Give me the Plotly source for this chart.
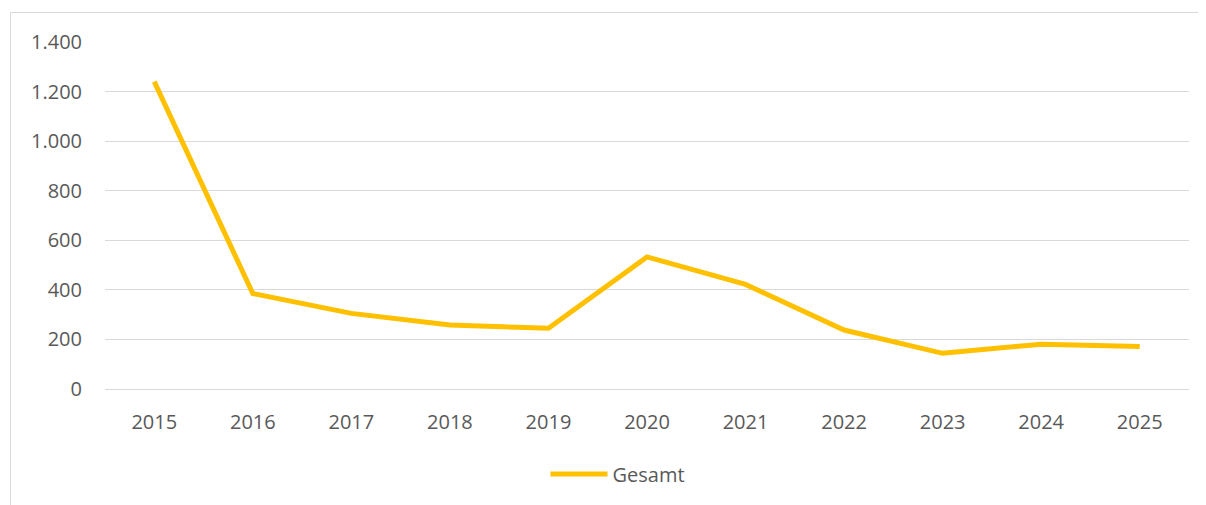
import plotly.graph_objects as go

years = ["2015", "2016", "2017", "2018", "2019", "2020", "2021", "2022", "2023", "2024", "2025"]
gesamt = [1240, 385, 305, 258, 245, 533, 422, 238, 144, 181, 171]
y_ticks = [0, 200, 400, 600, 800, 1000, 1200, 1400]

# page body adds an 8px offset; compensate so pixels match the target
OFF = 8
W, H = 1206 - OFF, 505 - OFF
L, R, T, B = 105 - OFF, 17, 42 - OFF, 116
pw, ph = W - L - R, H - T - B

def px_to_paper_x(px):
    return (px - OFF - L) / pw

def px_to_paper_y(py):
    return (H - B - (py - OFF)) / ph

fig = go.Figure()
fig.add_trace(go.Scatter(
    x=years, y=gesamt, mode="lines", name="Gesamt",
    line=dict(color="#FFC000", width=5, shape="linear"),
))

fig.update_layout(
    width=W, height=H,
    margin=dict(l=L, r=R, t=T, b=B, pad=0),
    paper_bgcolor="white", plot_bgcolor="white",
    separators=",.",
    font=dict(family="Open Sans, Liberation Sans, sans-serif", size=20, color="#595959"),
    showlegend=True,
    legend=dict(orientation="h", x=px_to_paper_x(618), xanchor="center", y=px_to_paper_y(474),
                yanchor="middle", itemwidth=57, font=dict(size=20, color="#595959")),
    xaxis=dict(type="category", range=[-0.5, 10.5], showgrid=False, showline=False,
               ticks="", ticklabelstandoff=19, tickfont=dict(size=20, color="#595959")),
    yaxis=dict(range=[0, 1400], tickvals=y_ticks, tickformat=",d", showgrid=True,
               gridcolor="#d9d9d9", gridwidth=1.3, zeroline=True, zerolinecolor="#d9d9d9",
               zerolinewidth=1.3, showline=False, ticks="", ticklabelstandoff=22,
               tickfont=dict(size=20, color="#595959")),
    shapes=[dict(type="rect", xref="paper", yref="paper",
                 x0=px_to_paper_x(10.5), x1=px_to_paper_x(1240),
                 y0=px_to_paper_y(540), y1=px_to_paper_y(12.5),
                 line=dict(color="#d9d9d9", width=1), fillcolor="rgba(0,0,0,0)", layer="below")],
)

fig.write_html("out.html")
